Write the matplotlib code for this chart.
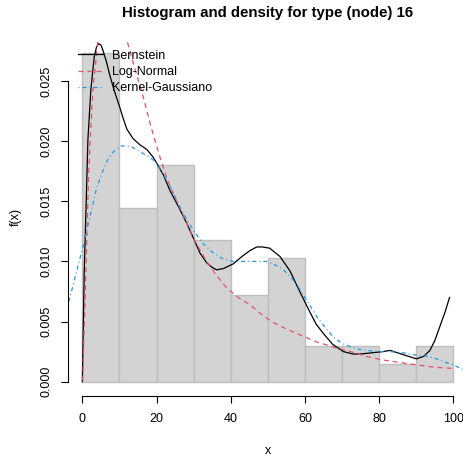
import matplotlib
matplotlib.use("Agg")
import matplotlib.pyplot as plt
import numpy as np

plt.rcParams['font.family'] = ['Liberation Sans', 'DejaVu Sans']
plt.rcParams['lines.scale_dashes'] = False

# histogram (density per bin of width 10)
bin_edges = [0, 10, 20, 30, 40, 50, 60, 70, 80, 90, 100]
bin_density = [0.0273, 0.0144, 0.0180, 0.0118, 0.0072, 0.0103, 0.0030, 0.0030, 0.0015, 0.0030]

# Bernstein estimate
bern_x = [0, 0.5, 1.0, 1.5, 2.3, 3.2, 3.8, 4.4, 5.0, 5.5, 6.5, 7.3, 8.5, 10.0, 11.0, 12.0,
          13.7, 15.5, 17.4, 19.0, 20.0, 22.0, 23.6, 26.0, 28.1, 30.0, 31.7, 33.5, 35.0,
          36.2, 38.0, 40.7, 43.0, 45.2, 47.0, 48.5, 50.5, 53.3, 56.0, 58.6, 61.0, 63.0,
          65.0, 67.5, 70.4, 73.0, 75.0, 78.0, 81.0, 83.0, 86.0, 88.0, 90.1, 92.0, 93.7,
          95.0, 96.4, 97.8, 99.0]
bern_y = [0.0, 0.0090, 0.0145, 0.0201, 0.0243, 0.0270, 0.0278, 0.0281, 0.0280, 0.0276,
          0.0266, 0.0256, 0.0243, 0.0229, 0.0219, 0.0210, 0.0202, 0.0197, 0.0193, 0.0187,
          0.0182, 0.0171, 0.0159, 0.0145, 0.0132, 0.0119, 0.0107, 0.0099, 0.0095, 0.0093,
          0.0094, 0.0098, 0.0104, 0.0109, 0.0112, 0.0112, 0.0111, 0.0104, 0.0092, 0.0075,
          0.0060, 0.0048, 0.0040, 0.0031, 0.0025, 0.0023, 0.0023, 0.0024, 0.0025, 0.0026,
          0.0023, 0.0021, 0.0019, 0.0021, 0.0026, 0.0034, 0.0046, 0.0058, 0.0070]

# Log-Normal fit
lnorm_x = [0.1, 0.4, 0.7, 1.2, 1.7, 2.2, 2.6, 3.0, 3.5, 4.1, 5.0, 6.5, 8.0, 10.0, 12.0,
           14.0, 16.4, 18.5, 20.9, 22.7, 25.0, 28.1, 30.5, 33.5, 36.0, 38.9, 42.0, 45.2,
           47.9, 51.0, 54.2, 58.6, 63.2, 67.5, 72.3, 76.5, 81.1, 85.5, 90.1, 95.0, 100]
lnorm_y = [0.0001, 0.0035, 0.0062, 0.0118, 0.0173, 0.0205, 0.0229, 0.0248, 0.0262,
           0.0281, 0.0305, 0.0325, 0.0325, 0.0310, 0.0284, 0.0262, 0.0237, 0.0212,
           0.0187, 0.0170, 0.0153, 0.0132, 0.0116, 0.0100, 0.0089, 0.0078, 0.0070,
           0.0064, 0.0057, 0.0050, 0.0045, 0.0039, 0.0033, 0.0029, 0.0025, 0.0021,
           0.0018, 0.0016, 0.0014, 0.0012, 0.0011]

# Gaussian kernel estimate
kern_x = [-4.5, -3.5, -1.7, 0.0, 1.0, 2.5, 3.7, 5.0, 6.4, 8.0, 9.1, 10.5, 12.0, 13.5,
          15.6, 18.0, 20.0, 22.0, 24.5, 27.0, 29.9, 32.5, 35.3, 38.0, 40.7, 43.0, 45.2,
          47.5, 49.7, 52.0, 54.2, 56.5, 58.6, 61.0, 63.2, 65.5, 67.7, 70.0, 72.3, 74.5,
          76.7, 80.0, 83.0, 86.5, 90.1, 93.0, 95.5, 98.0, 100, 102.7, 105]
kern_y = [0.0064, 0.0068, 0.0090, 0.0110, 0.0123, 0.0143, 0.0159, 0.0171, 0.0182,
          0.0190, 0.0193, 0.0196, 0.0196, 0.0195, 0.0191, 0.0187, 0.0182, 0.0172,
          0.0157, 0.0141, 0.0126, 0.0115, 0.0107, 0.0102, 0.0100, 0.0100, 0.0100,
          0.0100, 0.0100, 0.0097, 0.0093, 0.0086, 0.0077, 0.0065, 0.0054, 0.0045,
          0.0037, 0.0032, 0.0029, 0.0027, 0.0026, 0.0025, 0.0025, 0.0024, 0.0022,
          0.0021, 0.0019, 0.0016, 0.0014, 0.0010, 0.0008]

W, H = 463, 458
fig = plt.figure(figsize=(W / 100, H / 100), dpi=100)
# plot region in pixels: left 67.5, right 468, top 39, bottom 396
ax = fig.add_axes([67.5 / W, (H - 396) / H, (468.1 - 67.5) / W, (396 - 39) / H])

edges = np.array(bin_edges)
ax.bar(edges[:-1], bin_density, width=np.diff(edges), align='edge',
       color='#D3D3D3', edgecolor='#BEBEBE', linewidth=1.0)

ax.plot(bern_x, bern_y, color='black', lw=0.9, label='Bernstein')
ax.plot(lnorm_x, lnorm_y, color='#DF536B', lw=0.9, dashes=(3.6, 2.9), label='Log-Normal')
ax.plot(kern_x, kern_y, color='#2297E6', lw=0.9, dashes=(0.7, 2.2, 2.9, 2.2),
        label='Kernel-Gaussiano')

ax.set_xlim(-4, 104)
ax.set_ylim(-0.00119, 0.02849)

for s in ['top', 'right']:
    ax.spines[s].set_visible(False)
ax.spines['left'].set_bounds(0, 0.025)
ax.spines['bottom'].set_bounds(0, 100)
ax.spines['left'].set_linewidth(0.8)
ax.spines['bottom'].set_linewidth(0.8)

ax.set_xticks([0, 20, 40, 60, 80, 100])
ax.set_yticks([0, 0.005, 0.010, 0.015, 0.020, 0.025])
ax.set_yticklabels(['0.000', '0.005', '0.010', '0.015', '0.020', '0.025'])
ax.tick_params(direction='out', length=5, width=0.8, labelsize=9)
ax.tick_params(axis='x', pad=7)
ax.tick_params(axis='y', pad=5.5)
for lab in ax.get_yticklabels():
    lab.set_rotation(90)
    lab.set_va('center')

ax.set_xlabel('x', fontsize=9, labelpad=15)
ax.set_ylabel('f(x)', fontsize=9, labelpad=13.5)
ax.set_title('Histogram and density for type (node) 16', fontsize=10.8,
             fontweight='bold', pad=15.5)

ax.legend(loc='upper left', bbox_to_anchor=(0.026, 0.97), frameon=False,
          fontsize=9, handlelength=2.0, handletextpad=0.7, labelspacing=0.34,
          borderpad=0, borderaxespad=0)

fig.savefig('out.png', dpi=100)
